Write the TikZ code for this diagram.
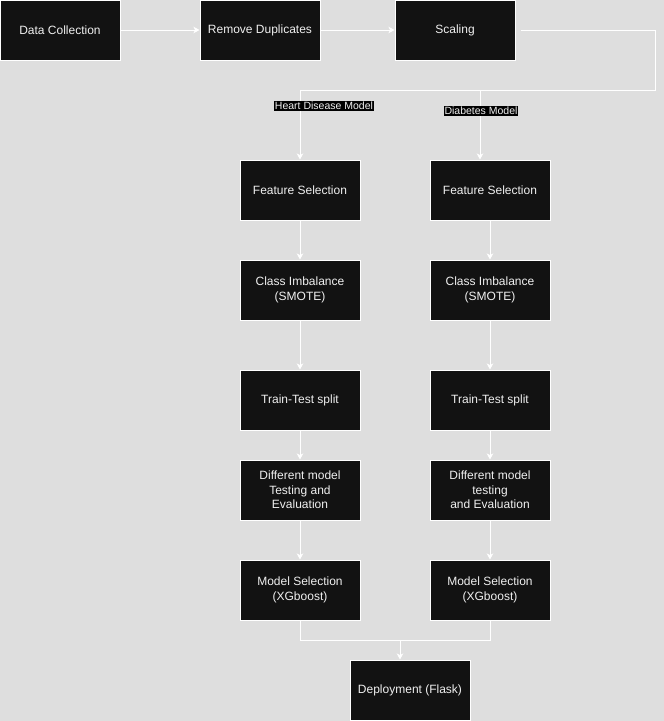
\documentclass[tikz,border=0pt]{standalone}
\usepackage{fontspec}
\setmainfont{Liberation Sans}
\usetikzlibrary{arrows.meta}
\definecolor{bgc}{HTML}{DEDEDE}
\definecolor{boxc}{HTML}{121212}
\definecolor{txtc}{HTML}{F0F0F0}
\tikzset{
  box/.style={draw=white, line width=1pt, fill=boxc, text=txtc, minimum width=120pt, minimum height=60pt, inner sep=0pt, align=center, font=\fontsize{12}{14.5}\selectfont},
  conn/.style={draw=white, line width=1pt},
  arr/.style={conn, -{Stealth[length=6pt,width=6.5pt,inset=1.5pt]}},
  lbl/.style={fill=black, text=txtc, inner sep=0.8pt, font=\fontsize{10.5}{12}\selectfont}
}
\begin{document}
\begin{tikzpicture}[x=1pt,y=-1pt]
\fill[bgc] (0,0) rectangle (664,721);
\useasboundingbox (0,0) rectangle (664,721);

\node[box] (dc) at (60,30) {Data Collection};
\node[box] (rd) at (260,30) {Remove Duplicates};
\node[box] (sc) at (455,30) {Scaling};

\node[box] (fsL) at (300,190) {Feature Selection};
\node[box] (ciL) at (300,290) {Class Imbalance\\(SMOTE)};
\node[box] (ttL) at (300,400) {Train-Test split};
\node[box] (dmL) at (300,490) {Different model\\Testing and\\Evaluation};
\node[box] (msL) at (300,590) {Model Selection\\(XGboost)};

\node[box] (fsR) at (490,190) {Feature Selection};
\node[box] (ciR) at (490,290) {Class Imbalance\\(SMOTE)};
\node[box] (ttR) at (490,400) {Train-Test split};
\node[box] (dmR) at (490,490) {Different model\\testing\\and Evaluation};
\node[box] (msR) at (490,590) {Model Selection\\(XGboost)};

\node[box] (dep) at (410,690) {Deployment (Flask)};

\draw[arr] (dc) -- (rd);
\draw[arr] (rd) -- (sc);

\coordinate (t1) at (655,30);
\coordinate (t2) at (655,90);
\coordinate (jl) at (300,90);
\coordinate (jr) at (480,90);
\draw[conn] ([xshift=5pt]sc.east) -- (t1) -- (t2) -- (jl);
\draw[arr] (jl) -- (fsL);
\draw[arr] (jr) -- (jr |- fsR.north);

\node[lbl] (hdl) at (324,106) {Heart Disease Model};
\node[lbl] (dbl) at (481,111) {Diabetes Model};

\draw[arr] (fsL) -- (ciL);
\draw[arr] (ciL) -- (ttL);
\draw[arr] (ttL) -- (dmL);
\draw[arr] (dmL) -- (msL);
\draw[arr] (fsR) -- (ciR);
\draw[arr] (ciR) -- (ttR);
\draw[arr] (ttR) -- (dmR);
\draw[arr] (dmR) -- (msR);

\coordinate (b1) at (300,640);
\coordinate (b2) at (490,640);
\coordinate (b3) at (400,640);
\draw[conn] (msL) -- (b1) -- (b2) -- (msR);
\draw[arr] (b3) -- (b3 |- dep.north);
\end{tikzpicture}
\end{document}
